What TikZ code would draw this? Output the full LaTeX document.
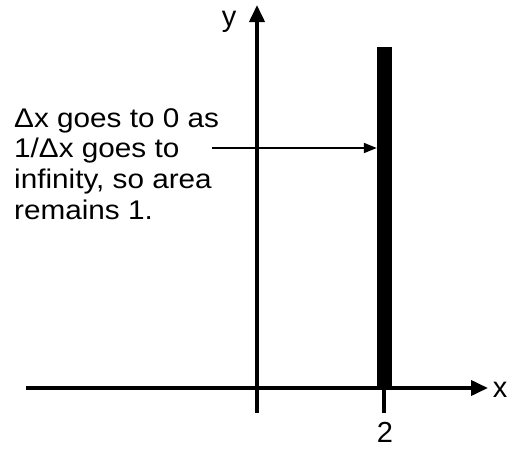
\documentclass[tikz,border=0pt]{standalone}
\usepackage{fontspec}
\setmainfont{Liberation Sans}
\usetikzlibrary{arrows.meta}
\begin{document}
\begin{tikzpicture}[x=1pt,y=-1pt,
  axis/.style={line width=3.8pt},
  bigtip/.style={-{Triangle[length=17pt,width=15pt]}},
  lbl/.style={font=\fontsize{29}{30}\selectfont, inner sep=0pt, anchor=base},
  txt/.style={font=\fontsize{27}{30}\selectfont, inner sep=0pt, anchor=base west}]
\useasboundingbox (0,0) rectangle (512,450);
% axes
\coordinate (xs) at (26,388);
\coordinate (xe) at (488,388);
\coordinate (ys) at (257,413);
\coordinate (ye) at (257,5);
\draw[axis,bigtip] (xs) -- (xe);
\draw[axis,bigtip] (ys) -- (ye);
% bar
\node[fill=black, inner sep=0pt, minimum width=15pt, minimum height=341pt, anchor=south] (bar) at (384.5,388) {};
% tick
\coordinate (tk1) at (384,388);
\coordinate (tk2) at (384,413);
\draw[axis] (tk1) -- (tk2);
% labels
\node[lbl] (xl) at (500,397) {x};
\node[lbl] (yl) at (229,26) {y};
\node[lbl] (two) at (385,442) {2};
% text
\node[txt] (t1) at (14,127) {\scalebox{1.1}[1]{Δx goes to 0 as}};
\node[txt] (t2) at (14,157.7) {\scalebox{1.1}[1]{1/Δx goes to}};
\node[txt] (t3) at (14,188.3) {\scalebox{1.1}[1]{infinity, so area}};
\node[txt] (t4) at (14,219) {\scalebox{1.1}[1]{remains 1.}};
\coordinate (as) at (212,148);
\draw[line width=1.8pt,-{Triangle[length=13pt,width=10pt]}] (as) -- (as -| bar.west);
\end{tikzpicture}
\end{document}
